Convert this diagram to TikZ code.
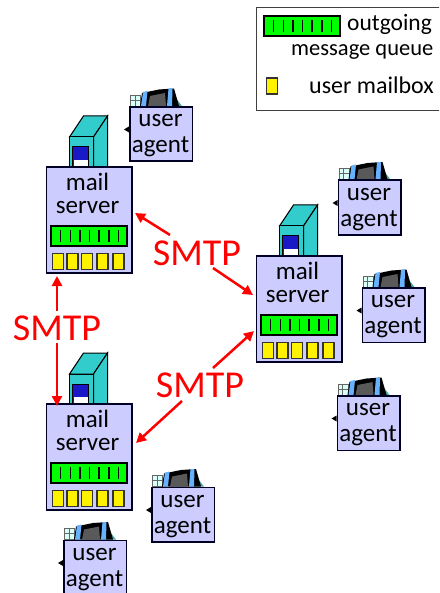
\documentclass[tikz,border=0pt]{standalone}
\usepackage{fontspec}
\setmainfont{Carlito}
\usetikzlibrary{arrows.meta,calc}
\definecolor{boxblue}{RGB}{204,204,255}
\definecolor{towerteal}{RGB}{51,204,204}
\definecolor{qgreen}{RGB}{0,255,0}
\definecolor{screenblue}{RGB}{102,178,255}
\tikzset{
  x=1pt,y=-1pt,
  outl/.style={draw=black,line width=1pt,line join=miter},
  thick box/.style={draw=black!85!blue,line width=1.8pt,fill=boxblue},
  boxtext/.style={font=\fontsize{25}{25}\selectfont,text=black,inner sep=0pt},
  legendtext/.style={font=\fontsize{24}{24}\selectfont,text=black,inner sep=0pt},
  smtptext/.style={font=\fontsize{38}{38}\selectfont,text=red,inner sep=0pt},
  smtparrow/.style={draw=red,line width=2.5pt,-{Triangle[length=10pt,width=10pt]}},
  pics/queue/.style={code={
    \draw[fill=qgreen,draw=black,line width=2pt] (0,0) rectangle (76,20);
    \foreach \i in {9.5,19.5,29,38.5,48,58,67.5}
      \draw[black,line width=1.6pt] (\i,4) -- (\i,16);
  }},
  pics/mailbox/.style={code={
    \draw[fill=yellow,draw=black!80,line width=1.2pt] (0,0) rectangle (11,16);
  }},
  pics/srv/.style={code={
    \draw[outl,fill=towerteal] (23,-30) -- (37,-51) -- (61,-51) -- (47,-30) -- cycle;
    \draw[outl,fill=towerteal] (47,-30) -- (61,-51) -- (61,0) -- (47,0) -- cycle;
    \draw[outl,fill=towerteal] (23,-30) rectangle (47,0);
    \draw[outl,fill=blue!75!black!90!white] (26,-20) rectangle (42,0);
    \fill[white] (27,-7) rectangle (41,-0.5);
    \draw[thick box] (0,0) rectangle (85.5,106);
    \pic at (4.5,59) {queue};
    \pic at (6,86.5) {mailbox};
    \pic at (20.5,86.5) {mailbox};
    \pic at (35,86.5) {mailbox};
    \pic at (50.5,86.5) {mailbox};
    \pic at (66.5,86.5) {mailbox};
  }},
  pics/agenticon/.style={code={
    \fill[black] (-5,23.5) -- (0,20.5) -- (0,26.5) -- cycle;
    \draw[draw=black!60,fill=green!15!cyan!15,line width=.7pt] (1.5,-11) rectangle (11.5,0);
    \draw[black!60,line width=.5pt] (6,-11) -- (6,0) (1.5,-6) -- (11.5,-6);
    \fill[teal!70] (46,-9) -- (53,0) -- (40,0) -- cycle;
    \fill[black] (11,0) -- (13,-13) -- (30,-16.5) -- (45,-17.5) -- (50,0) -- cycle;
    \fill[black!65] (19,0) -- (21,-10) -- (36,-13) -- (37,0) -- cycle;
    \fill[screenblue] (12,0) -- (14,-14) -- (18.5,-15) -- (17,0) -- cycle;
    \fill[screenblue] (38,0) -- (39.5,-17.5) -- (43.5,-17.5) -- (43,0) -- cycle;
  }}
}
\newcommand{\useragent}[3]{%
  \pic at (#2,#3) {agenticon};
  \node[thick box,minimum width=62.5pt,minimum height=54.5pt,inner sep=0pt,anchor=north west] (#1) at (#2,#3) {};
  \node[boxtext] (#1a) at ($(#2,#3)+(31.5,15)$) {user};
  \node[boxtext] (#1b) at ($(#2,#3)+(31.5,41)$) {agent};
}
\newcommand{\mailserver}[3]{%
  \pic at (#2,#3) {srv};
  \coordinate (#1) at (#2,#3);
  \node[boxtext] (#1a) at ($(#2,#3)+(41,15)$) {mail};
  \node[boxtext] (#1b) at ($(#2,#3)+(41,41)$) {server};
}
\begin{document}
\begin{tikzpicture}
\useasboundingbox (0,0) rectangle (439,593);
\clip (0,0) rectangle (439,593);
\node[draw=black!75,line width=1pt,minimum width=190pt,minimum height=103pt,inner sep=0pt,anchor=north west] (legend) at (255.5,7) {};
\pic at (264,16) {queue};
\pic at (266.5,78) {mailbox};
\node[legendtext,anchor=base west,font=\fontsize{23.5}{24}\selectfont] (l1) at (347,31) {outgoing};
\node[legendtext,anchor=base west,font=\fontsize{22.5}{24}\selectfont] (l2) at (291,56) {message queue};
\node[legendtext,anchor=base west] (l3) at (309,94) {user mailbox};
\mailserver{s1}{46.5}{167}
\mailserver{s2}{256.5}{256}
\mailserver{s3}{46.5}{404}
\useragent{a1}{129}{106}
\useragent{a2}{337.5}{179.5}
\useragent{a3}{361.5}{287}
\useragent{a4}{336.5}{395}
\useragent{a5}{151}{486.5}
\useragent{a6}{63}{539.5}
\node[smtptext] (m1) at (197,253) {SMTP};
\node[smtptext] (m2) at (57,328) {SMTP};
\node[smtptext] (m3) at (200,385) {SMTP};
\coordinate (t1a) at (170,235); \coordinate (h1a) at (135,213);
\coordinate (t1b) at (213,268); \coordinate (h1b) at (253,295);
\coordinate (t2a) at (57,311); \coordinate (h2a) at (57,276);
\coordinate (t2b) at (57,343); \coordinate (h2b) at (57,406);
\coordinate (t3a) at (213,368); \coordinate (h3a) at (254,331);
\coordinate (t3b) at (182,401); \coordinate (h3b) at (136,443);
\draw[smtparrow] (t1a) -- (h1a);
\draw[smtparrow] (t1b) -- (h1b);
\draw[smtparrow] (t2a) -- (h2a);
\draw[smtparrow] (t2b) -- (h2b);
\draw[smtparrow] (t3a) -- (h3a);
\draw[smtparrow] (t3b) -- (h3b);
\end{tikzpicture}
\end{document}
